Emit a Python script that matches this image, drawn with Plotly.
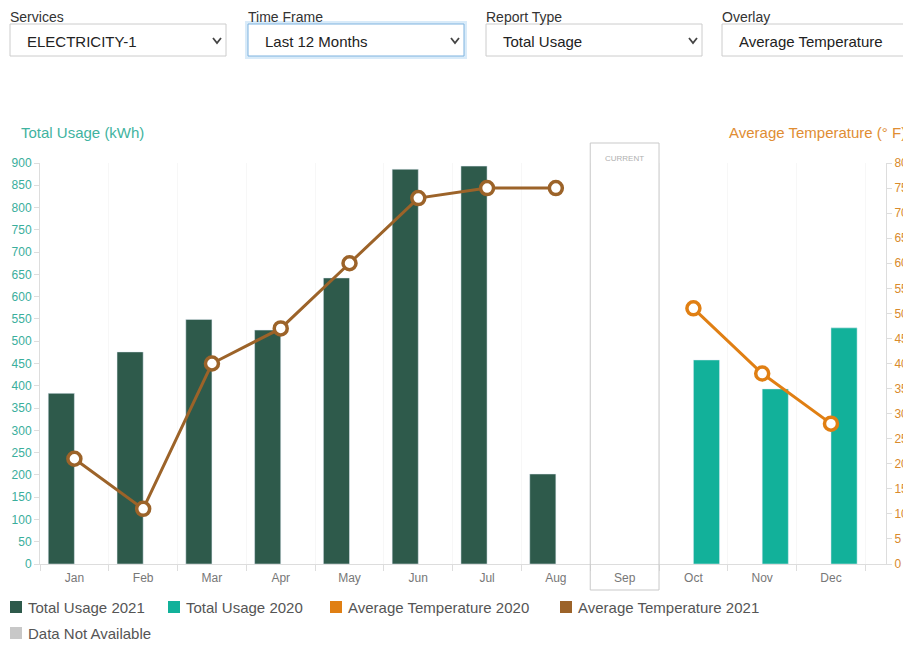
import plotly.graph_objects as go

# months on the x axis
months = ["Jan", "Feb", "Mar", "Apr", "May", "Jun", "Jul", "Aug", "Sep", "Oct", "Nov", "Dec"]

# kWh usage (None = no bar in that month)
usage_2021 = [383, 476, 549, 525, 642, 886, 893, 202, None, None, None, None]
usage_2020 = [None, None, None, None, None, None, None, None, None, 458, 393, 530]

# average temperature overlay (deg F)
temp_2021 = [21, 11, 40, 47, 60, 73, 75, 75, None, None, None, None]
temp_2020 = [None, None, None, None, None, None, None, None, None, 51, 38, 28]

current_month = "Sep"

# dropdowns at the top: label, selected value
dropdowns = [
    ("Services", "ELECTRICITY-1"),
    ("Time Frame", "Last 12 Months"),
    ("Report Type", "Total Usage"),
    ("Overlay", "Average Temperature"),
]

legend_items = [
    ("Total Usage 2021", "#2e5a4b"),
    ("Total Usage 2020", "#12b19a"),
    ("Average Temperature 2020", "#e07f13"),
    ("Average Temperature 2021", "#9c6329"),
    ("Data Not Available", "#c8c8c8"),
]

C_2021 = "#2e5a4b"
C_2020 = "#12b19a"
C_T2020 = "#e07f13"
C_T2021 = "#9c6329"
FONT = "Liberation Sans"

# page body has an 8px margin, so the figure is 8px smaller than the window
PAGE = 8
FIG_W, FIG_H = 911 - PAGE, 649 - PAGE

# plot area in window pixels
L, R, T, B = 40, 886, 163, 564
W, H = R - L, B - T


def px(x):
    return (x - L) / W


def py(y):
    return (B - y) / H


fig = go.Figure()

fig.add_trace(go.Bar(x=months, y=usage_2021, name="Total Usage 2021",
                     marker_color=C_2021, showlegend=False))
fig.add_trace(go.Bar(x=months, y=usage_2020, name="Total Usage 2020",
                     marker_color=C_2020, showlegend=False))

for vals, col, nm in [(temp_2021, C_T2021, "Average Temperature 2021"),
                      (temp_2020, C_T2020, "Average Temperature 2020")]:
    fig.add_trace(go.Scatter(
        x=months, y=vals, yaxis="y2", mode="lines+markers", name=nm,
        line=dict(color=col, width=3),
        marker=dict(symbol="circle", size=13, color="white",
                    line=dict(color=col, width=3.5)),
        showlegend=False, connectgaps=False))

shapes = []
annotations = []

# "current" month box
ci = months.index(current_month)
shapes.append(dict(type="rect", xref="x", yref="paper",
                   x0=ci - 0.5, x1=ci + 0.5, y0=py(590), y1=py(143),
                   line=dict(color="#c9c9c9", width=1), fillcolor="rgba(0,0,0,0)"))
annotations.append(dict(text="CURRENT", xref="x", yref="paper", x=ci, y=py(152),
                        showarrow=False, font=dict(size=8, color="#b0b0b0", family=FONT)))

# axis titles
annotations.append(dict(text="Total Usage (kWh)", xref="paper", yref="paper",
                        x=px(19), y=py(132), xanchor="left", yanchor="middle",
                        showarrow=False, font=dict(size=15, color="#3fb3a0", family=FONT)))
annotations.append(dict(text="Average Temperature (° F)", xref="paper", yref="paper",
                        x=px(908), y=py(132), xanchor="right", yanchor="middle",
                        showarrow=False, font=dict(size=15, color="#e08d33", family=FONT)))

# dropdown controls
box_x = [10, 248, 486, 722]
for i, (lab, val) in enumerate(dropdowns):
    x0 = box_x[i]
    x1 = x0 + 216 if i < 3 else 930
    annotations.append(dict(text=lab, xref="paper", yref="paper", x=px(x0 - 1), y=py(PAGE),
                            xanchor="left", yanchor="top", showarrow=False, borderpad=0,
                            font=dict(size=14, color="#333333", family=FONT)))
    if i == 1:
        shapes.append(dict(type="rect", xref="paper", yref="paper",
                           x0=px(x0 - 1), x1=px(x1 + 1), y0=py(57), y1=py(23),
                           line=dict(color="rgba(102,175,233,0.25)", width=4)))
        bcol = "#7fb3df"
    else:
        bcol = "#cccccc"
    shapes.append(dict(type="rect", xref="paper", yref="paper",
                       x0=px(x0), x1=px(x1), y0=py(56), y1=py(24),
                       line=dict(color=bcol, width=1), fillcolor="white"))
    annotations.append(dict(text=val, xref="paper", yref="paper", x=px(x0 + 15), y=py(41),
                            xanchor="left", yanchor="middle", showarrow=False,
                            font=dict(size=15, color="#222222", family=FONT)))
    if i < 3:
        cx = x1 - 9
        path = "M {} {} L {} {} L {} {}".format(px(cx - 4), py(38), px(cx), py(43),
                                                px(cx + 4), py(38))
        shapes.append(dict(type="path", xref="paper", yref="paper", path=path,
                           line=dict(color="#444444", width=1.8)))

# legend drawn by hand (square swatches)
leg_pos = [(10, 607), (168, 607), (330, 607), (560, 607), (10, 633)]
for (name, col), (lx, ly) in zip(legend_items, leg_pos):
    shapes.append(dict(type="rect", xref="paper", yref="paper",
                       x0=px(lx), x1=px(lx + 12), y0=py(ly + 6), y1=py(ly - 6),
                       line=dict(width=0), fillcolor=col))
    annotations.append(dict(text=name, xref="paper", yref="paper", x=px(lx + 16), y=py(ly),
                            xanchor="left", yanchor="middle", showarrow=False,
                            font=dict(size=15, color="#555555", family=FONT)))

fig.update_layout(
    width=FIG_W, height=FIG_H, autosize=False,
    margin=dict(l=L - PAGE, r=911 - R, t=T - PAGE, b=649 - B, pad=0),
    paper_bgcolor="white", plot_bgcolor="white",
    barmode="group", bargap=0.24, bargroupgap=0,
    font=dict(family=FONT),
    shapes=shapes, annotations=annotations,
    showlegend=False,
    xaxis=dict(type="category", range=[-0.5, 11.8], tickson="boundaries",
               showgrid=True, gridcolor="#f7f7f7", automargin=False,
               showline=True, linecolor="#dddddd", linewidth=1,
               ticks="outside", ticklen=6, tickcolor="#dddddd", ticklabelstandoff=3,
               tickfont=dict(size=12, color="#777777", family=FONT), zeroline=False),
    yaxis=dict(range=[0, 900], dtick=50, showgrid=False, zeroline=False, automargin=False,
               showline=True, linecolor="#dddddd", ticks="outside", ticklen=5,
               tickcolor="#dddddd", tickfont=dict(size=12, color="#3aae9c", family=FONT)),
    yaxis2=dict(range=[0, 80], dtick=5, overlaying="y", side="right", automargin=False,
                showgrid=False, zeroline=False, showline=True, linecolor="#dddddd",
                ticks="outside", ticklen=5, tickcolor="#dddddd",
                tickfont=dict(size=12, color="#d98a2c", family=FONT)),
)

fig.write_html("out.html", config={"displayModeBar": False})
